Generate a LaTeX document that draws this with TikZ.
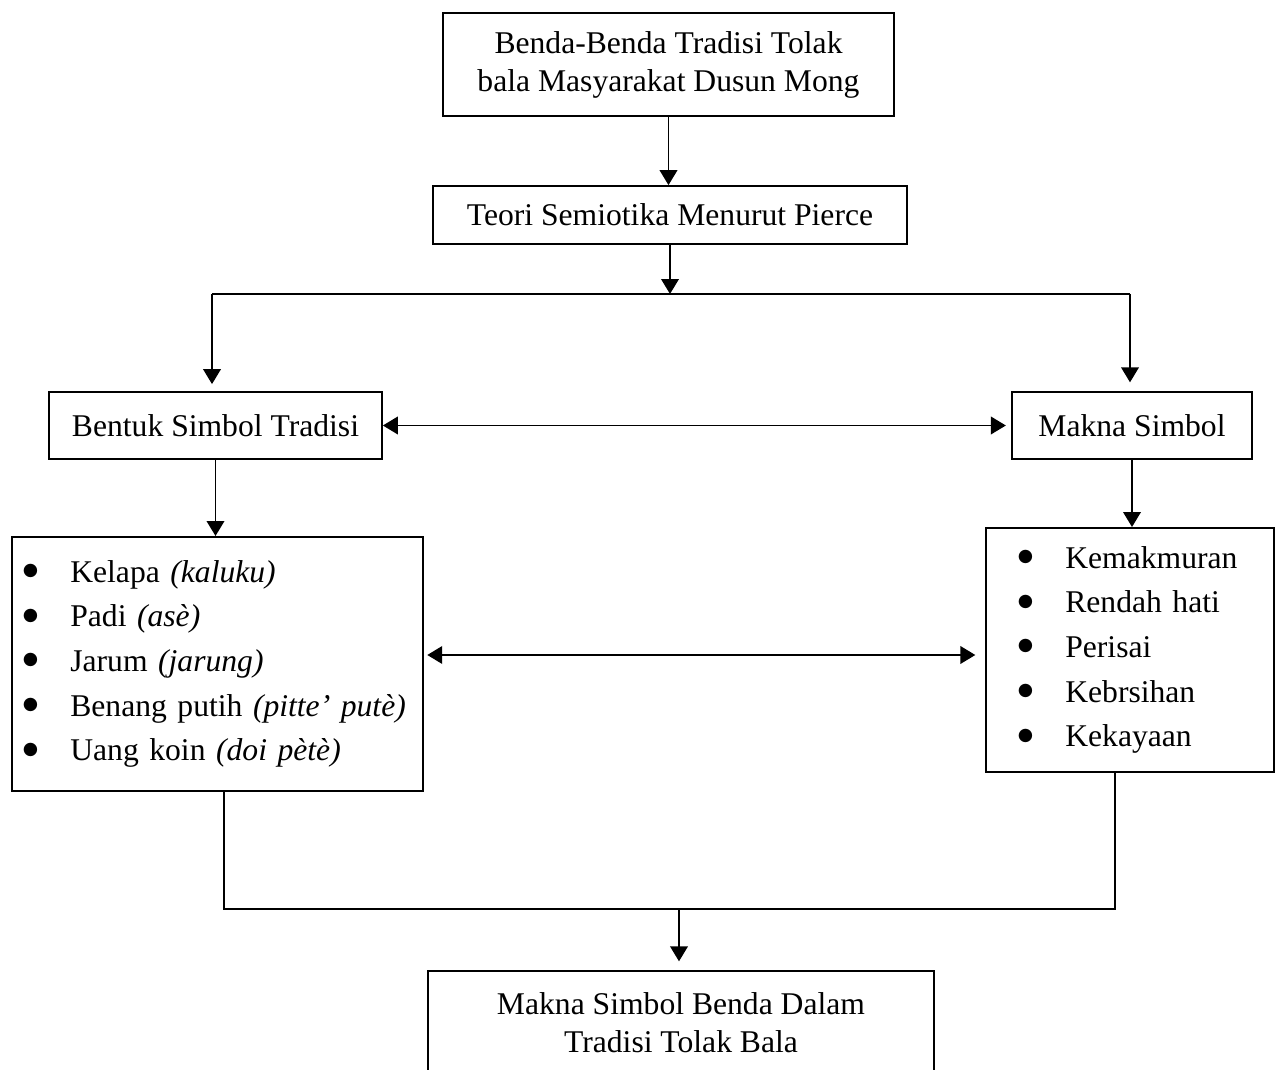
\documentclass[tikz,border=0pt]{standalone}
\usepackage{fontspec}
\setmainfont{Liberation Serif}
\newfontfamily\bulletfont{DejaVu Sans}
\usetikzlibrary{arrows.meta, positioning}
\def\px{0.02cm}
\newcommand{\itm}{\makebox[27pt][l]{\raisebox{3.8pt}{\bulletfont\fontsize{10}{10}\selectfont ●}}}

\begin{document}
\begin{tikzpicture}[x=0.02cm, y=-0.02cm, >={Triangle[length=8.5pt,width=10pt]}, line width=1pt,
    box/.style={draw, line width=1pt, align=center, inner sep=0pt, font=\fontsize{18}{21.6}\selectfont},
    listbox/.style={draw, line width=1pt, align=left, inner ysep=0pt, anchor=north west, font=\fontsize{18}{25.4}\selectfont}]
    \useasboundingbox (0,0) rectangle (1275,1070);
    % Top boxes
    \node[box, minimum width=451*\px, minimum height=103*\px] (title) at (668.5,64.5) {Benda-Benda Tradisi Tolak\\bala Masyarakat Dusun Mong};
    \node[box, minimum width=474*\px, minimum height=58*\px] (theory) at (670,215) {Teori Semiotika Menurut Pierce};
    % Second row
    \node[box, minimum width=333*\px, minimum height=67*\px] (form) at (215.5,425.5) {Bentuk Simbol Tradisi};
    \node[box, minimum width=240*\px, minimum height=67*\px] (meaning) at (1132,425.5) {Makna Simbol};
    % Lists
    \node[listbox, minimum width=411*\px, minimum height=254*\px, inner xsep=11*\px, text width=389*\px] (formlist) at (11,536)
        {\itm Kelapa \textit{(kaluku)}\\
         \itm Padi \textit{(asè)}\\
         \itm Jarum \textit{(jarung)}\\
         \itm Benang putih \textit{(pitte’ putè)}\\
         \itm Uang koin \textit{(doi pètè)}};
    \node[listbox, minimum width=288*\px, minimum height=244*\px, inner xsep=32*\px, text width=224*\px] (meaninglist) at (985,527)
        {\itm Kemakmuran\\
         \itm Rendah hati\\
         \itm Perisai\\
         \itm Kebrsihan\\
         \itm Kekayaan};
    % Result
    \node[box, minimum width=506*\px, minimum height=103*\px] (result) at (681,1022.5) {Makna Simbol Benda Dalam\\Tradisi Tolak Bala};
    % Helper points
    \coordinate (split) at (670,294);
    \coordinate (splitL) at (212,294);
    \coordinate (splitR) at (1130,294);
    \coordinate (midrow) at (700,655);
    \coordinate (joinL) at (224,909);
    \coordinate (joinR) at (1115,909);
    \coordinate (join) at (679,909);
    % Connectors
    \draw[->] (title.south) -- (title.south |- theory.north);
    \draw[->] (theory.south) -- (split);
    \draw (splitL) -- (splitR);
    \draw[->, shorten >=4pt] (splitL) -- (splitL |- form.north);
    \draw[->, shorten >=5pt] (splitR) -- (splitR |- meaning.north);
    \draw[<->, shorten >=3pt] (form) -- (meaning);
    \draw[->] (form.south) -- (form.south |- formlist.north);
    \draw[->] (meaning.south) -- (meaning.south |- meaninglist.north);
    \draw[<->, shorten <=2pt, shorten >=5.5pt] (midrow -| formlist.east) -- (midrow -| meaninglist.west);
    \draw (formlist.south -| joinL) -- (joinL) -- (joinR) -- (meaninglist.south -| joinR);
    \draw[->, shorten >=5pt] (join) -- (join |- result.north);
\end{tikzpicture}
\end{document}
